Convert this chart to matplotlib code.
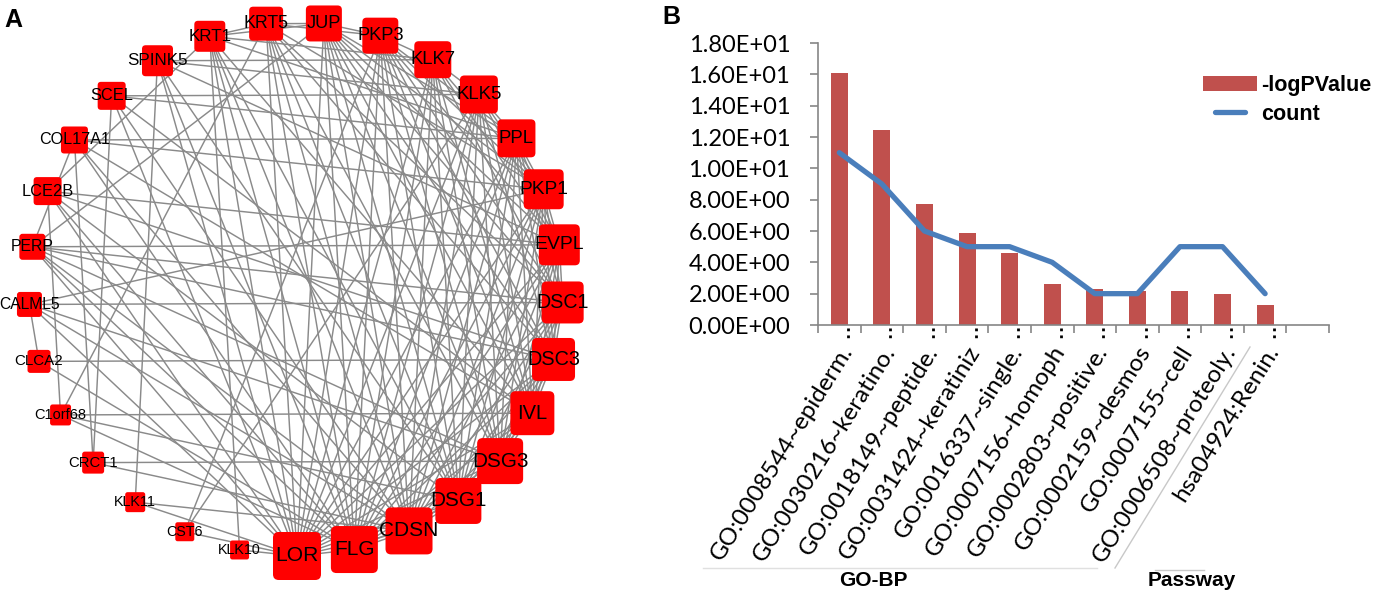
import numpy as np
import matplotlib.pyplot as plt
from matplotlib.patches import FancyBboxPatch
from matplotlib.lines import Line2D
from matplotlib.collections import LineCollection

W, H = 1374, 596

# ---- panel A: interaction network, circular layout ordered by degree ----
nodes = ['KLK10', 'CST6', 'KLK11', 'CRCT1', 'C1orf68', 'CLCA2', 'CALML5', 'PERP',
         'LCE2B', 'COL17A1', 'SCEL', 'SPINK5', 'KRT1', 'KRT5', 'JUP', 'PKP3', 'KLK7',
         'KLK5', 'PPL', 'PKP1', 'EVPL', 'DSC1', 'DSC3', 'IVL', 'DSG3', 'DSG1', 'CDSN',
         'FLG', 'LOR']
node_size = [19, 19, 20, 22, 21, 23, 25, 26, 28, 27, 28, 31, 31, 34, 36, 36, 37,
             38, 38, 40, 41, 42, 43, 44, 46, 46, 47, 47, 48]

# neighbours of each hub (every edge listed once)
lor_links = 'FLG CDSN DSG1 DSG3 IVL DSC3 DSC1 EVPL PKP1 PPL KLK5 KLK7 PKP3 JUP KRT5 KRT1 SPINK5 SCEL LCE2B PERP CALML5 KLK11 KLK10 CST6'.split()
flg_links = 'CDSN DSG1 DSG3 IVL DSC3 DSC1 EVPL PKP1 PPL KLK5 KLK7 PKP3 JUP KRT5 KRT1 SPINK5 COL17A1 LCE2B PERP CLCA2 C1orf68'.split()
cdsn_links = 'DSG1 DSG3 IVL DSC3 DSC1 EVPL PKP1 PPL KLK5 KLK7 PKP3 JUP KRT5 KRT1 SCEL COL17A1 PERP CALML5 KLK11 CRCT1'.split()
dsg1_links = 'DSG3 IVL DSC3 DSC1 EVPL PKP1 PPL KLK5 KLK7 PKP3 JUP KRT5 KRT1 SPINK5 LCE2B C1orf68'.split()
dsg3_links = 'IVL DSC3 DSC1 EVPL PKP1 PPL KLK5 KLK7 PKP3 JUP KRT5 PERP CALML5 CRCT1'.split()
ivl_links = 'DSC3 DSC1 EVPL PKP1 PPL KLK5 KLK7 PKP3 JUP KRT1 SCEL COL17A1 C1orf68'.split()
dsc3_links = 'DSC1 EVPL PKP1 PPL KLK5 PKP3 JUP KRT5 CLCA2 PERP LCE2B'.split()
dsc1_links = 'EVPL PKP1 PPL KLK7 PKP3 JUP KRT5 PERP CALML5'.split()
evpl_links = 'PKP1 PPL KLK5 KLK7 PKP3 JUP SPINK5 PERP LCE2B'.split()
pkp1_links = 'PPL KLK5 KLK7 PKP3 JUP KRT5 COL17A1 CALML5'.split()
ppl_links = 'KLK5 PKP3 JUP KRT1 COL17A1 SCEL'.split()
klk5_links = 'KLK7 SPINK5 SCEL CST6'.split()
klk7_links = 'PKP3 SPINK5 KRT1'.split()
pkp3_links = 'JUP KRT5 CST6'.split()
jup_links = 'KRT5 KRT1 PERP'.split()
krt5_links = 'KRT1 C1orf68'.split()
krt1_links = 'KLK10 LCE2B'.split()
minor_links = [('SPINK5', 'KLK11'), ('SCEL', 'CRCT1'), ('COL17A1', 'CRCT1'),
               ('LCE2B', 'C1orf68'), ('CALML5', 'CLCA2'), ('PERP', 'COL17A1')]

hubs = {'LOR': lor_links, 'FLG': flg_links, 'CDSN': cdsn_links, 'DSG1': dsg1_links,
        'DSG3': dsg3_links, 'IVL': ivl_links, 'DSC3': dsc3_links, 'DSC1': dsc1_links,
        'EVPL': evpl_links, 'PKP1': pkp1_links, 'PPL': ppl_links, 'KLK5': klk5_links,
        'KLK7': klk7_links, 'PKP3': pkp3_links, 'JUP': jup_links, 'KRT5': krt5_links,
        'KRT1': krt1_links}
edges = [(a, b) for a, nb in hubs.items() for b in nb] + minor_links

# ---- panel B: enrichment ----
terms = ['GO:0008544~epiderm.', 'GO:0030216~keratino.', 'GO:0018149~peptide.',
         'GO:0031424~keratiniz', 'GO:0016337~single.', 'GO:0007156~homoph',
         'GO:0002803~positive.', 'GO:0002159~desmos', 'GO:0007155~cell',
         'GO:0006508~proteoly.', 'hsa04924:Renin.']
neg_log_p = [16.1, 12.45, 7.75, 5.9, 4.62, 2.6, 2.28, 2.15, 2.15, 2.0, 1.3]
gene_count = [11, 9, 6, 5, 5, 4, 2, 2, 5, 5, 2]

fig = plt.figure(figsize=(W / 100, H / 100), dpi=100)

# network
axa = fig.add_axes([0, 0, 600 / W, 1])
axa.set_xlim(0, 600)
axa.set_ylim(H, 0)
axa.axis('off')

cx, cy, r = 296, 289, 267
ang = np.radians(257.8 - np.arange(len(nodes)) * 360 / len(nodes))
pos = {n: (cx + r * np.cos(a), cy - r * np.sin(a)) for n, a in zip(nodes, ang)}

segs = [[pos[a], pos[b]] for a, b in edges]
axa.add_collection(LineCollection(segs, colors='#8a8a8a', linewidths=1.05, zorder=1))

for n, s in zip(nodes, node_size):
    x, y = pos[n]
    p = s * 0.12
    axa.add_patch(FancyBboxPatch((x - s / 2 + p, y - s / 2 + p), s - 2 * p, s - 2 * p,
                                 boxstyle=f'round,pad={p}', fc='#ff0000', ec='none', zorder=2))
    axa.text(x, y, n, ha='center', va='center', fontsize=7 + 0.17 * s,
             family='Liberation Sans', zorder=3)

# bar + line chart
ax = fig.add_axes([818 / W, (H - 325) / H, (1329 - 818) / W, (325 - 43) / H])
xs = np.arange(len(terms))
bars = ax.bar(xs, neg_log_p, width=0.4, color='#C0504D', zorder=2)
line, = ax.plot(xs, gene_count, color='#4A7EBB', lw=3.8, solid_joinstyle='round',
                solid_capstyle='round', zorder=3)
ax.set_xlim(-0.5, 11.5)
ax.set_ylim(0, 18)
yt = np.arange(0, 19, 2)
ax.set_yticks(yt)
ax.set_yticklabels([f'{v:.2E}' for v in yt], family='Lato', fontsize=17)
ax.set_xticks(np.arange(-0.5, 12, 1))
ax.set_xticklabels([])
for side in ['top', 'right']:
    ax.spines[side].set_visible(False)
for side in ['left', 'bottom']:
    ax.spines[side].set_color('#868686')
    ax.spines[side].set_linewidth(1.2)
ax.tick_params(axis='both', direction='out', length=6, width=1.2, color='#868686')
ax.tick_params(axis='y', pad=14)

for i, lab in enumerate(terms):
    ax.text(i + 0.2, -0.08, lab, transform=ax.get_xaxis_transform(), rotation=58,
            rotation_mode='anchor', ha='right', va='center', fontsize=17.5, family='Lato')
ax.vlines(xs + 0.2, -0.012, -0.055, transform=ax.get_xaxis_transform(), colors='k',
          linestyles=(0, (1, 1.5)), lw=2, clip_on=False)

leg = ax.legend([bars, line], ['-logPValue', 'count'], loc='upper left',
                bbox_to_anchor=(1203 / W, (H - 75) / H), bbox_transform=fig.transFigure,
                frameon=False, borderpad=0, borderaxespad=0, handlelength=2.5,
                handleheight=0.7, handletextpad=0.2, labelspacing=0.35,
                prop={'family': 'Liberation Sans', 'weight': 'bold', 'size': 15.5})
ln = leg.get_lines()[0]
xd = np.asarray(ln.get_xdata(), dtype=float)
mid, half = (xd.min() + xd.max()) / 2, (xd.max() - xd.min()) * 0.28
ln.set_xdata(np.linspace(mid - half, mid + half, len(xd)))

# category group labels and separators
fig.add_artist(Line2D([703 / W, 1097 / W], [(H - 568) / H] * 2, color='#e0e0e0', lw=1))
fig.add_artist(Line2D([1155 / W, 1204 / W], [(H - 570) / H] * 2, color='#c8c8c8', lw=1))
fig.add_artist(Line2D([1250 / W, 1115 / W], [(H - 347) / H, (H - 568) / H], color='#c8c8c8', lw=1))
fig.text(873 / W, (H - 581) / H, 'GO-BP', ha='center', va='center', weight='bold',
         size=15, family='Liberation Sans')
fig.text(1192 / W, (H - 581) / H, 'Passway', ha='center', va='center', weight='bold',
         size=15, family='Liberation Sans')

fig.text(4 / W, 1 - 20 / H, 'A', weight='bold', size=18, va='center', family='Liberation Sans')
fig.text(662 / W, 1 - 17 / H, 'B', weight='bold', size=18, va='center', family='Liberation Sans')

fig.savefig('out.png', dpi=100)
